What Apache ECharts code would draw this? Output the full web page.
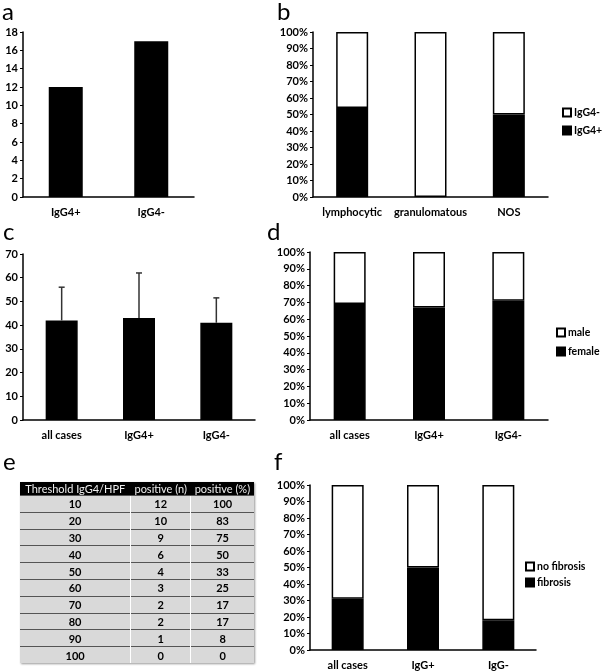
<!DOCTYPE html>
<html>
<head>
<meta charset="utf-8">
<script src="https://cdn.jsdelivr.net/npm/echarts@6/dist/echarts.min.js"></script>
<style>
  body { margin: 0; background: #fff; }
  #wrap { position: relative; width: 602px; height: 671px; }
  #chart { position: absolute; left: 0; top: 0; width: 602px; height: 671px; }
  #tbl {
    position: absolute; left: 20px; top: 482px; width: 234px; height: 181px;
    border-collapse: collapse; font-family: Lato, sans-serif; font-size: 11px;
    box-shadow: 1px 1px 2px #999;
  }
  #tbl th {
    background: #000; color: #eee; font-weight: normal; height: 13px; padding: 0 2px;
    white-space: nowrap;
  }
  #tbl td {
    background: #d9d9d9; color: #000; font-weight: bold; text-align: center;
    border-top: 1px solid #555; border-left: 1px solid #fff; padding: 0;
  }
  #tbl td:first-child { border-left: none; }
</style>
</head>
<body>
<div id="wrap">
  <div id="chart"></div>
  <table id="tbl"><thead><tr id="thead"></tr></thead><tbody id="tbody"></tbody></table>
</div>
<script>
// panel a: number of cases
const aCats = ["IgG4+", "IgG4-"];
const aCounts = [12, 17];

// panel b: histological subtype
const bCats = ["lymphocytic", "granulomatous", "NOS"];
const bPos = [54, 0, 50];
const bNeg = [46, 100, 50];

// panel c: age, mean + SD
const cCats = ["all cases", "IgG4+", "IgG4-"];
const cMean = [42, 43, 41];
const cUpper = [56, 62, 51.5];

// panel d: sex
const dCats = ["all cases", "IgG4+", "IgG4-"];
const dFemale = [69, 67, 71];
const dMale = [31, 33, 29];

// panel e: threshold table
const eHeader = ["Threshold IgG4/HPF", "positive (n)", "positive (%)"];
const eThreshold = [10, 20, 30, 40, 50, 60, 70, 80, 90, 100];
const ePosN = [12, 10, 9, 6, 4, 3, 2, 2, 1, 0];
const ePosPct = [100, 83, 75, 50, 33, 25, 17, 17, 8, 0];

// panel f: fibrosis
const fCats = ["all cases", "IgG+", "IgG-"];
const fFib = [31, 50, 18];
const fNoFib = [69, 50, 82];

// table
document.getElementById("thead").innerHTML = eHeader.map(h => `<th>${h}</th>`).join("");
document.getElementById("tbody").innerHTML = eThreshold
  .map((t, i) => `<tr><td>${t}</td><td>${ePosN[i]}</td><td>${ePosPct[i]}</td></tr>`)
  .join("");

const font = "Lato, sans-serif";
const lbl = { color: "#000", fontWeight: "bold", fontSize: 11, fontFamily: font };
const axLine = { lineStyle: { color: "#000", width: 1.5 } };

const catAxis = (grid, data) => ({
  type: "category", gridIndex: grid, data: data,
  axisLine: axLine, axisTick: { show: false },
  axisLabel: { ...lbl, margin: 10, interval: 0 },
});
const valAxis = (grid, max, interval, pct) => ({
  type: "value", gridIndex: grid, min: 0, max: max, interval: interval,
  axisLine: { show: true, ...axLine },
  axisTick: { show: true, length: 3, lineStyle: { color: "#000" } },
  splitLine: { show: false },
  axisLabel: { ...lbl, margin: 5, formatter: pct ? "{value}%" : "{value}" },
});

// zero-height segments would still draw their border, so leave them out
const noZero = arr => arr.map(v => (v === 0 ? "-" : v));

const black = { color: "#000", borderColor: "#000", borderWidth: 1.5 };
const white = { color: "#fff", borderColor: "#000", borderWidth: 1.5 };

const letter = (t, left, top) => ({
  text: t, left: left, top: top, padding: 0,
  textStyle: { fontSize: 24, fontWeight: "normal", color: "#000", fontFamily: font },
});
const legend = (names, left, top, gap) => ({
  data: names, orient: "vertical", left: left, top: top, itemGap: gap,
  itemWidth: 8, itemHeight: 8, icon: "rect", padding: 0,
  textStyle: { ...lbl, fontSize: 10.5, padding: [0, 0, 0, -2] },
});

const chart = echarts.init(document.getElementById("chart"));
chart.setOption({
  animation: false,
  title: [
    letter("a", 2, 0), letter("b", 277, 0), letter("c", 3, 220),
    letter("d", 267, 220), letter("e", 3, 450), letter("f", 274, 450),
  ],
  legend: [
    legend(["IgG4-", "IgG4+"], 562, 107, 7),
    legend(["male", "female"], 556, 327, 8),
    legend(["no fibrosis", "fibrosis"], 525, 561, 5),
  ],
  grid: [
    { left: 23, top: 32, width: 171, height: 165 },
    { left: 313, top: 32, width: 235, height: 165 },
    { left: 23, top: 254, width: 232, height: 166 },
    { left: 310, top: 252, width: 238, height: 168 },
    { left: 310, top: 485, width: 226, height: 165 },
  ],
  xAxis: [
    catAxis(0, aCats), catAxis(1, bCats), catAxis(2, cCats),
    catAxis(3, dCats), catAxis(4, fCats),
  ],
  yAxis: [
    valAxis(0, 18, 2, false), valAxis(1, 100, 10, true), valAxis(2, 70, 10, false),
    valAxis(3, 100, 10, true), valAxis(4, 100, 10, true),
  ],
  series: [
    { type: "bar", xAxisIndex: 0, yAxisIndex: 0, data: aCounts, barWidth: 34, itemStyle: black },

    { name: "IgG4+", type: "bar", stack: "b", xAxisIndex: 1, yAxisIndex: 1, data: noZero(bPos), barWidth: 32, itemStyle: black },
    { name: "IgG4-", type: "bar", stack: "b", xAxisIndex: 1, yAxisIndex: 1, data: noZero(bNeg), barWidth: 32, itemStyle: white },

    { type: "bar", xAxisIndex: 2, yAxisIndex: 2, data: cMean, barWidth: 32, itemStyle: black },
    {
      type: "custom", xAxisIndex: 2, yAxisIndex: 2, z: 5,
      data: cMean.map((m, i) => [i, m, cUpper[i]]),
      renderItem: (params, api) => {
        const p1 = api.coord([api.value(0), api.value(1)]);
        const p2 = api.coord([api.value(0), api.value(2)]);
        const st = { stroke: "#333", lineWidth: 1.5 };
        return {
          type: "group",
          children: [
            { type: "line", shape: { x1: p1[0], y1: p1[1], x2: p2[0], y2: p2[1] }, style: st },
            { type: "line", shape: { x1: p2[0] - 3, y1: p2[1], x2: p2[0] + 3, y2: p2[1] }, style: st },
          ],
        };
      },
    },

    { name: "female", type: "bar", stack: "d", xAxisIndex: 3, yAxisIndex: 3, data: dFemale, barWidth: 32, itemStyle: black },
    { name: "male", type: "bar", stack: "d", xAxisIndex: 3, yAxisIndex: 3, data: dMale, barWidth: 32, itemStyle: white },

    { name: "fibrosis", type: "bar", stack: "f", xAxisIndex: 4, yAxisIndex: 4, data: fFib, barWidth: 32, itemStyle: black },
    { name: "no fibrosis", type: "bar", stack: "f", xAxisIndex: 4, yAxisIndex: 4, data: fNoFib, barWidth: 32, itemStyle: white },
  ],
});
</script>
</body>
</html>
